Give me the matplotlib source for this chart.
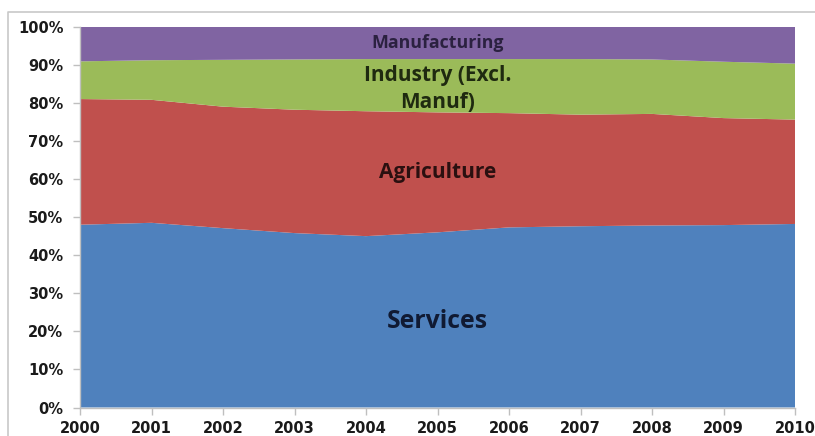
import matplotlib
matplotlib.use("Agg")
import matplotlib.pyplot as plt
from matplotlib.lines import Line2D
from matplotlib.ticker import FuncFormatter, MultipleLocator

# Sector shares of output, percent of total
years = [2000, 2001, 2002, 2003, 2004, 2005, 2006, 2007, 2008, 2009, 2010]
services = [48.0, 48.5, 47.1, 45.8, 45.0, 46.0, 47.3, 47.6, 47.8, 47.9, 48.2]
agriculture = [33.0, 32.3, 31.9, 32.4, 32.8, 31.5, 30.0, 29.3, 29.3, 28.1, 27.4]
industry_excl_manuf = [9.9, 10.4, 12.3, 13.2, 13.7, 14.0, 14.2, 14.6, 14.3, 14.8, 14.7]
manufacturing = [9.1, 8.8, 8.7, 8.6, 8.5, 8.5, 8.5, 8.5, 8.6, 9.2, 9.7]

series_labels = ["Services", "Agriculture", "Industry (Excl.\nManuf)", "Manufacturing"]
colors = ["#4F81BD", "#C0504D", "#9BBB59", "#8064A2"]

W, H = 815, 436
fig = plt.figure(figsize=(W / 100, H / 100), dpi=100)
ax = fig.add_axes([80 / W, 1 - 407.5 / H, 715 / W, (407.5 - 26.7) / H])

ax.stackplot(years, services, agriculture, industry_excl_manuf, manufacturing,
             colors=colors, linewidth=0)

ax.set_xlim(years[0], years[-1])
ax.set_ylim(0, 100)
ax.set_xticks(years)
ax.yaxis.set_major_locator(MultipleLocator(10))
ax.yaxis.set_major_formatter(FuncFormatter(lambda v, _: f"{int(round(v))}%"))

for side in ("top", "right"):
    ax.spines[side].set_visible(False)
for side in ("left", "bottom"):
    ax.spines[side].set_color("#BFBFBF")
    ax.spines[side].set_linewidth(1.0)

ax.tick_params(axis="both", colors="#BFBFBF", length=5, width=1,
               labelcolor="#1A1A1A", labelsize=10.5)
ax.tick_params(axis="y", pad=7)
ax.tick_params(axis="x", pad=4.5)
for lbl in ax.get_xticklabels() + ax.get_yticklabels():
    lbl.set_fontweight("bold")
    lbl.set_family("DejaVu Sans")

# In-area series labels
label_font = "Open Sans"
ax.text(2005, 95.6, "Manufacturing", ha="center", va="center",
        fontsize=12.8, fontweight="bold", color="#2B2140", family=label_font)
ax.text(2005, 83.6, "Industry (Excl.\nManuf)", ha="center", va="center",
        fontsize=15, fontweight="bold", color="#1F2A10", family=label_font,
        linespacing=1.4)
ax.text(2005, 61.7, "Agriculture", ha="center", va="center",
        fontsize=15, fontweight="bold", color="#2A1010", family=label_font)
ax.text(2005, 22.6, "Services", ha="center", va="center",
        fontsize=17.8, fontweight="bold", color="#101A33", family=label_font)

# Light frame around the chart area
frame = Line2D([8 / W, 8 / W, 1.0], [0.0, 1 - 12 / H, 1 - 12 / H],
               transform=fig.transFigure, color="#C8C8C8", linewidth=1.2)
fig.add_artist(frame)

fig.savefig("out.png", dpi=100)
